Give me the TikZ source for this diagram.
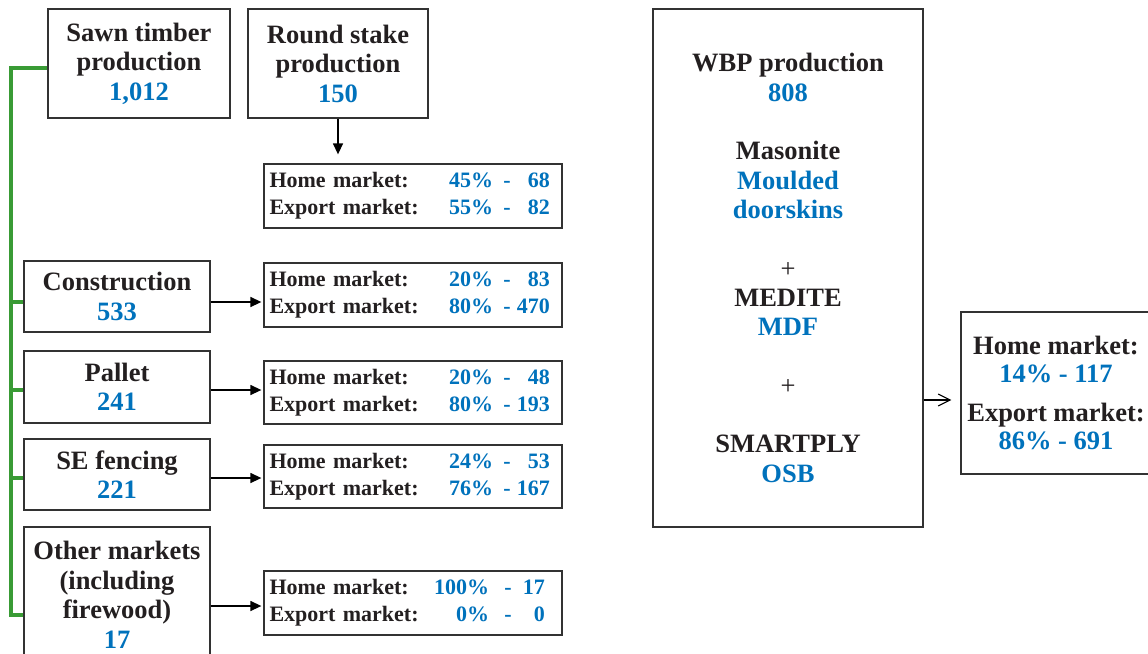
\documentclass[tikz,border=0pt]{standalone}
\usepackage{fontspec}
\setmainfont{Liberation Serif}
\usetikzlibrary{arrows.meta,calc}
\definecolor{cblue}{RGB}{0,114,188}
\definecolor{cgreen}{RGB}{57,155,53}
\definecolor{ctext}{RGB}{35,31,32}
\definecolor{cline}{RGB}{50,50,50}
\newcommand\mktrow[6]{#1\hfill{\color{cblue}\makebox[0pt][r]{#2}\makebox[#4]{-}\makebox[#5][r]{#3}}\rule{#6}{0pt}}
\tikzset{
  mainbox/.style={draw=cline, line width=1.3pt, fill=white, align=center, inner sep=0pt,
    font=\bfseries\fontsize{26.5}{29.5}\selectfont, text=ctext},
  mkt/.style={draw=cline, line width=1.3pt, fill=white, text width=287pt, align=left,
    minimum width=298pt, inner sep=0pt, font=\bfseries\fontsize{22}{27}\selectfont, text=ctext},
  greenline/.style={draw=cgreen, line width=4pt, line join=miter},
  arr/.style={draw=black, line width=1.4pt, -{Triangle[length=11pt,width=10pt]}, shorten >=2pt},
  openarr/.style={draw=black, line width=1.1pt, -{Straight Barb[length=12pt,width=12pt]}},
}
\begin{document}
\begin{tikzpicture}[x=1pt,y=-1pt]
\fill[white] (0,0) rectangle (1148,653);
\useasboundingbox (0,0) rectangle (1148,653);
\clip (0,0) rectangle (1148,653);

% left column boxes
\node[mainbox, minimum width=182pt, minimum height=109pt] (sawn) at (139,63.5)
  {Sawn timber\\production\\{\color{cblue}1,012}};
\node[mainbox, minimum width=180pt, minimum height=109pt] (round) at (338,63.5)
  {Round stake\\production\\{\color{cblue}150}};
\node[mainbox, minimum width=186pt, minimum height=71pt] (cons) at (117,296.5)
  {Construction\\{\color{cblue}533}};
\node[mainbox, minimum width=186pt, minimum height=72pt] (pallet) at (117,387)
  {Pallet\\{\color{cblue}241}};
\node[mainbox, minimum width=186pt, minimum height=71pt] (se) at (117,474.5)
  {SE fencing\\{\color{cblue}221}};
\node[mainbox, minimum width=186pt, minimum height=136pt] (other) at (117,595)
  {Other markets\\(including\\firewood)\\{\color{cblue}17}};

% market boxes
\node[mkt, minimum height=64pt] (m1) at (413,196)
  {\mktrow{Home market:}{45\%}{68}{28pt}{29pt}{6.5pt}\\
   \mktrow{Export market:}{55\%}{82}{28pt}{29pt}{6.5pt}};
\node[mkt, minimum height=64pt] (m2) at (413,295)
  {\mktrow{Home market:}{20\%}{83}{28pt}{29pt}{6.5pt}\\
   \mktrow{Export market:}{80\%}{470}{28pt}{29pt}{6.5pt}};
\node[mkt, minimum height=63pt] (m3) at (413,392.5)
  {\mktrow{Home market:}{20\%}{48}{28pt}{29pt}{6.5pt}\\
   \mktrow{Export market:}{80\%}{193}{28pt}{29pt}{6.5pt}};
\node[mkt, minimum height=63pt] (m4) at (413,476.5)
  {\mktrow{Home market:}{24\%}{53}{28pt}{29pt}{6.5pt}\\
   \mktrow{Export market:}{76\%}{167}{28pt}{29pt}{6.5pt}};
\node[mkt, minimum height=64pt] (m5) at (413,603)
  {\mktrow{Home market:}{100\%}{17}{38pt}{18pt}{11.5pt}\\
   \mktrow{Export market:}{0\%}{0}{38pt}{18pt}{11.5pt}};

% WBP box
\node[mainbox, minimum width=270pt, minimum height=518pt, font=\bfseries\fontsize{26.5}{29.3}\selectfont] (wbp) at (788,268)
  {WBP production\\{\color{cblue}808}\\[29.3pt]Masonite\\{\color{cblue}Moulded}\\{\color{cblue}doorskins}\\[29.3pt]%
   {\mdseries +}\\MEDITE\\{\color{cblue}MDF}\\[29.3pt]{\mdseries +}\\[29.3pt]SMARTPLY\\{\color{cblue}OSB}};

% right box
\node[mainbox, minimum width=190pt, minimum height=162pt, font=\bfseries\fontsize{26.5}{28}\selectfont] (rbox) at (1056,393)
  {Home market:\\{\color{cblue}14\% - 117}\\[11pt]Export market:\\{\color{cblue}86\% - 691}};

% green tree
\draw[greenline] ([yshift=-4.5pt]sawn.west) -- ++(-36,0) coordinate (gtop) |- ([yshift=-20pt]other.west);
\coordinate (gw1) at ([yshift=-5.5pt]cons.west);
\coordinate (gw2) at ([yshift=-3pt]pallet.west);
\coordinate (gw3) at ([yshift=-3.5pt]se.west);
\draw[greenline] (gw1 -| gtop) -- (gw1);
\draw[greenline] (gw2 -| gtop) -- (gw2);
\draw[greenline] (gw3 -| gtop) -- (gw3);

% arrows
\draw[arr, shorten >=9pt] (round.south) -- (round.south |- m1.north);
\coordinate (a1) at ([yshift=-5.5pt]cons.east);
\coordinate (a2) at ([yshift=-3pt]pallet.east);
\coordinate (a3) at ([yshift=-3.5pt]se.east);
\coordinate (a4) at ([yshift=-11pt]other.east);
\draw[arr] (a1) -- (a1 -| m2.west);
\draw[arr] (a2) -- (a2 -| m3.west);
\draw[arr] (a3) -- (a3 -| m4.west);
\draw[arr] (a4) -- (a4 -| m5.west);
\coordinate (a5) at ([yshift=-132pt]wbp.east);
\draw[openarr, shorten >=9pt] (a5) -- (a5 -| rbox.west);
\end{tikzpicture}
\end{document}
